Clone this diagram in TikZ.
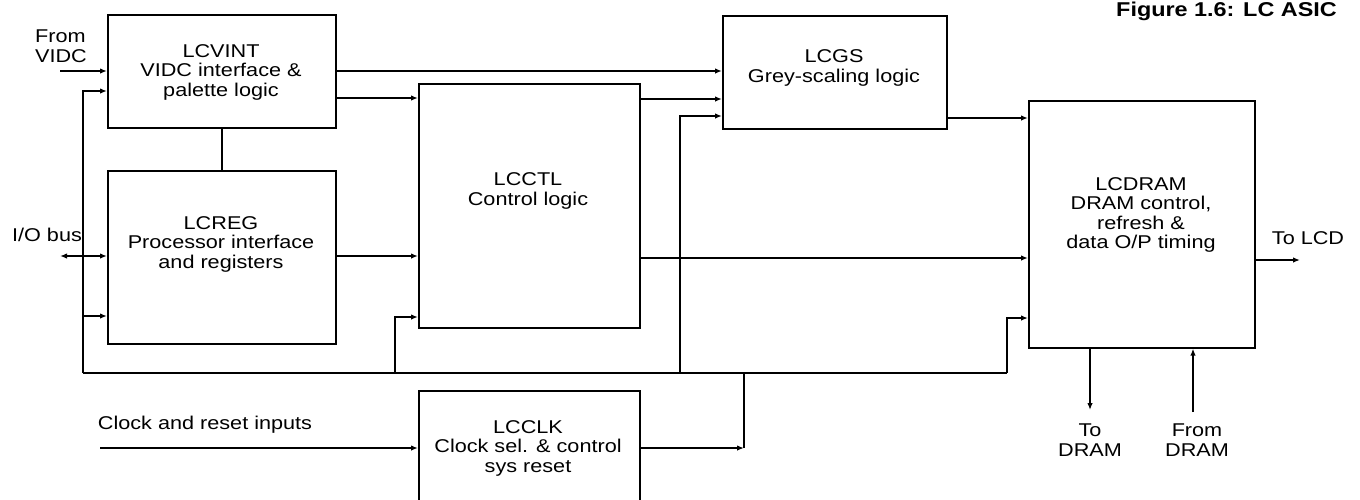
\documentclass[tikz,border=0pt]{standalone}
\usepackage{fontspec}
\setmainfont{Liberation Sans}[FakeStretch=1.17]
\usetikzlibrary{arrows.meta}

\begin{document}
\begin{tikzpicture}[x=1pt, y=-1pt,
			 bloque/.style={draw, line width=1.6pt, anchor=north west, inner sep=0pt},
			 etiqueta/.style={align=center, inner sep=0pt, font=\fontsize{18.5}{19.5}\selectfont},
			 flecha/.style={line width=1.6pt, -{Latex[length=7pt,width=5.5pt]}},
			 flechas/.style={line width=1.6pt, {Latex[length=7pt,width=5.5pt]}-{Latex[length=7pt,width=5.5pt]}},
			 linea/.style={line width=1.6pt}
  		]
	\clip (0,0) rectangle (1360,499);

	%Titulo
		\node[anchor=base west, inner sep=0pt, font=\bfseries\fontsize{20}{21}\selectfont] (titulo) at (1116,16) {Figure 1.6: LC ASIC};

	%Creamos los bloques
		\node[bloque, minimum width=228, minimum height=113] (vint) at (107,14) {};
		\node[bloque, minimum width=228, minimum height=173] (reg) at (107,170) {};
		\node[bloque, minimum width=221, minimum height=244] (ctl) at (418,83) {};
		\node[bloque, minimum width=224, minimum height=113] (gs) at (722,15) {};
		\node[bloque, minimum width=226, minimum height=247] (dram) at (1028,100) {};
		\node[bloque, minimum width=221, minimum height=116] (clk) at (418,390) {};
	%Textos de los bloques
		\node[etiqueta] (vint-t) at (221,72) {LCVINT\\VIDC interface \&\\palette logic};
		\node[etiqueta] (reg-t) at (221,244) {LCREG\\Processor interface\\and registers};
		\node[etiqueta] (ctl-t) at (528,191) {LCCTL\\Control logic};
		\node[etiqueta] (gs-t) at (834,68) {LCGS\\Grey-scaling logic};
		\node[etiqueta] (dram-t) at (1141,215) {LCDRAM\\DRAM control,\\refresh \&\\data O/P timing};
		\node[etiqueta] (clk-t) at (528,448) {LCCLK\\Clock sel. \& control\\sys reset};

	%Puntos libres
		\coordinate (vidc) at (60,71);
		\coordinate (io) at (60,256);
		\coordinate (bus-a) at (83,91);
		\coordinate (bus-b) at (83,316);
		\coordinate (bus-c) at (83,373);
		\coordinate (bus-d) at (1007,373);
		\coordinate (bus-e) at (1007,318);
		\coordinate (rama-a) at (395,373);
		\coordinate (rama-b) at (395,317);
		\coordinate (rama-c) at (680,373);
		\coordinate (rama-d) at (680,116);
		\coordinate (rama-clk) at (744,373);
		\coordinate (clk-o) at (744,448);
		\coordinate (clkin) at (100,448);
		\coordinate (tolcd) at (1300,260);
		\coordinate (todram) at (1090,410);
		\coordinate (fromdram) at (1193,412);

	%Entradas de la izquierda
		\draw[flecha] (vidc) -- (vidc -| vint.west);
		\draw[flechas] (io) -- (io -| reg.west);
		\draw[flecha] (bus-c) -- (bus-a) -- (bus-a -| vint.west);
		\draw[flecha] (bus-b) -- (bus-b -| reg.west);
		\draw[flecha] (clkin) -- (clkin -| clk.west);
	%Bus de abajo
		\draw[linea] (bus-c) -- (bus-d);
		\draw[flecha] (bus-d) -- (bus-e) -- (bus-e -| dram.west);
		\draw[flecha] (rama-a) -- (rama-b) -- (rama-b -| ctl.west);
		\draw[flecha] (rama-c) -- (rama-d) -- (rama-d -| gs.west);
		\draw[linea] (rama-clk) -- (clk-o);
		\draw[flecha] (clk.east |- clk-o) -- (clk-o);
	%Conexiones entre bloques
		\draw[linea] (vint.south) -- (reg.north);
		\draw[flecha] (vint.east |- 0,71) -- (gs.west |- 0,71);
		\draw[flecha] (vint.east |- 0,98) -- (ctl.west |- 0,98);
		\draw[flecha] (ctl.east |- 0,99) -- (gs.west |- 0,99);
		\draw[flecha] (reg.east |- 0,256) -- (ctl.west |- 0,256);
		\draw[flecha] (ctl.east |- 0,258) -- (dram.west |- 0,258);
		\draw[flecha] (gs.east |- 0,118) -- (dram.west |- 0,118);
	%Salidas de LCDRAM
		\draw[flecha] (dram.east |- tolcd) -- (tolcd);
		\draw[flecha] (dram.south -| todram) -- (todram);
		\draw[flecha] (fromdram) -- (fromdram |- dram.south);

	%Etiquetas
		\node[etiqueta, align=left] (vidc-t) at (61,46) {From\\VIDC};
		\node[etiqueta] (io-t) at (47,235) {I/O bus};
		\node[etiqueta] (clkin-t) at (205,425) {Clock and reset inputs};
		\node[etiqueta] (tolcd-t) at (1308,238) {To LCD};
		\node[etiqueta] (todram-t) at (1090,440) {To\\DRAM};
		\node[etiqueta] (fromdram-t) at (1197,440) {From\\DRAM};
	\end{tikzpicture}
\end{document}
